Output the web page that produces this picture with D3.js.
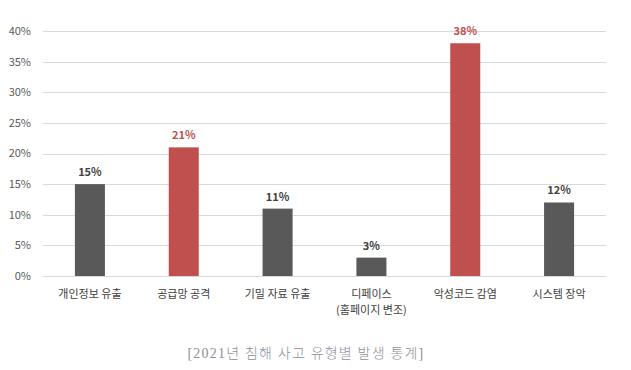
<!DOCTYPE html>
<html>
<head>
<meta charset="utf-8">
<script src="https://cdn.jsdelivr.net/npm/d3@7"></script>
<style>
  body { margin: 0; background: #fff; }
  svg { display: block; }
</style>
</head>
<body>
<script>
// chart data
var categories = ["개인정보 유출", "공급망 공격", "기밀 자료 유출", "디페이스\n(홈페이지 변조)", "악성코드 감염", "시스템 장악"];
var values = [15, 21, 11, 3, 38, 12];
var highlighted = [false, true, false, false, true, false];
var yTicks = [0, 5, 10, 15, 20, 25, 30, 35, 40];
var caption = "[2021년 침해 사고 유형별 발생 통계]";

var W = 631, H = 370;
var margin = {top: 31, right: 25, bottom: 94, left: 43};
var width = W - margin.left - margin.right,
    height = H - margin.top - margin.bottom;

var grey = "#595959", red = "#C0504D";
var font = "'Noto Sans CJK KR', 'Noto Sans', sans-serif";

var svg = d3.select("body").append("svg")
    .attr("width", W)
    .attr("height", H);

var g = svg.append("g")
    .attr("transform", "translate(" + margin.left + "," + margin.top + ")");

var x = d3.scaleBand().domain(categories).range([0, width]).paddingInner(0.68).paddingOuter(0.34);
var y = d3.scaleLinear().domain([0, 40]).range([height, 0]);

// gridlines + y labels
g.selectAll(".grid").data(yTicks).enter().append("line")
    .attr("x1", 0).attr("x2", width)
    .attr("y1", function(d) { return Math.round(y(d)) + 0.5; })
    .attr("y2", function(d) { return Math.round(y(d)) + 0.5; })
    .attr("stroke", "#d9d9d9")
    .attr("stroke-width", 1);

g.selectAll(".ytick").data(yTicks).enter().append("text")
    .attr("x", -12)
    .attr("y", function(d) { return y(d); })
    .attr("dy", "0.36em")
    .attr("text-anchor", "end")
    .attr("font-family", font)
    .attr("font-size", "11px")
    .attr("fill", "#595959")
    .text(function(d) { return d + "%"; });

// bars
g.selectAll(".bar").data(values).enter().append("rect")
    .attr("x", function(d, i) { return x(categories[i]); })
    .attr("y", function(d) { return y(d); })
    .attr("width", x.bandwidth())
    .attr("height", function(d) { return height - y(d); })
    .attr("fill", function(d, i) { return highlighted[i] ? red : grey; });

// value labels
g.selectAll(".val").data(values).enter().append("text")
    .attr("x", function(d, i) { return x(categories[i]) + x.bandwidth() / 2; })
    .attr("y", function(d) { return y(d) - 12; })
    .attr("dy", "0.36em")
    .attr("text-anchor", "middle")
    .attr("font-family", font)
    .attr("font-size", "11px")
    .attr("font-weight", "bold")
    .attr("fill", function(d, i) { return highlighted[i] ? red : "#404040"; })
    .text(function(d) { return d + "%"; });

// category labels
var cat = g.selectAll(".cat").data(categories).enter().append("text")
    .attr("x", function(d) { return x(d) + x.bandwidth() / 2; })
    .attr("y", height + 18)
    .attr("text-anchor", "middle")
    .attr("font-family", font)
    .attr("font-size", "11px")
    .attr("fill", "#404040");

cat.each(function(d) {
    var lines = d.split("\n");
    var t = d3.select(this);
    lines.forEach(function(l, k) {
        t.append("tspan")
            .attr("x", t.attr("x"))
            .attr("dy", k == 0 ? "0.36em" : "16px")
            .text(l);
    });
});

// caption
svg.append("text")
    .attr("x", 306)
    .attr("y", 353)
    .attr("dy", "0.36em")
    .attr("text-anchor", "middle")
    .attr("font-family", "'Liberation Serif', 'Noto Sans CJK KR', serif")
    .attr("font-size", "14px")
    .attr("font-weight", 300)
    .attr("letter-spacing", "1.2px")
    .attr("fill", "#8c8f99")
    .text(caption);
</script>
</body>
</html>
